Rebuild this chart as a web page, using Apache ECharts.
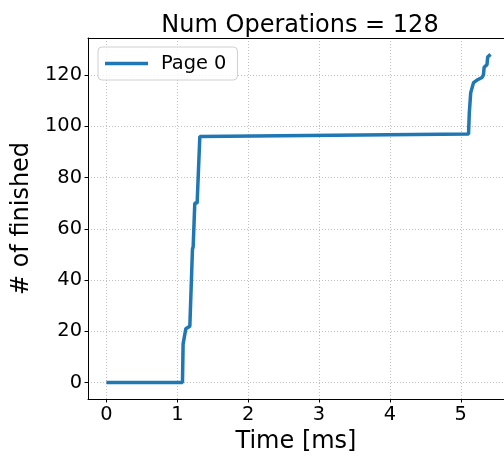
<!DOCTYPE html>
<html>
<head>
<meta charset="utf-8">
<script src="https://cdn.jsdelivr.net/npm/echarts@6/dist/echarts.min.js"></script>
<style>
html,body{margin:0;padding:0;background:#fff;}
#chart{width:504px;height:459px;}
</style>
</head>
<body>
<div id="chart"></div>
<script>
const titleText = "Num Operations = 128";
const xLabel = "Time [ms]";
const yLabel = "# of finished";
const seriesName = "Page 0";
const timeMs = [0, 1.073, 1.082, 1.120, 1.177, 1.214, 1.224, 1.247, 1.280, 1.318, 5.11, 5.12, 5.14, 5.18, 5.23, 5.30, 5.32, 5.33, 5.37, 5.38, 5.42];
const finished = [0, 0, 15, 21, 22, 52, 53, 70, 70, 96, 97, 105, 113, 117, 118, 119, 120, 123, 124, 127, 128];
const xTicks = [0, 1, 2, 3, 4, 5];
const yTicks = [0, 20, 40, 60, 80, 100, 120];

const font = "DejaVu Sans";
const chart = echarts.init(document.getElementById('chart'), null, {renderer: 'canvas'});
const data = timeMs.map((t, i) => [t, finished[i]]);
const splitStyle = {show: true, lineStyle: {color: '#b0b0b0', type: [1, 2], width: 0.8}};
chart.setOption({
  animation: false,
  backgroundColor: '#fff',
  title: {
    text: titleText, left: 295, top: 9, textAlign: 'center',
    textStyle: {fontFamily: font, fontSize: 24, fontWeight: 'normal', color: '#000'}
  },
  legend: {
    left: 98, top: 47,
    padding: [7, 11, 7, 7],
    borderColor: '#d0d0d0', borderWidth: 1, borderRadius: 4,
    backgroundColor: 'rgba(255,255,255,0.8)',
    icon: 'rect', itemWidth: 43, itemHeight: 3.5,
    textStyle: {fontFamily: font, fontSize: 19.4, color: '#000', padding: [0, 0, 0, 8]},
    data: [seriesName]
  },
  grid: {
    left: 88, top: 38, right: 0, bottom: 57,
    show: false, containLabel: false
  },
  xAxis: [{
    type: 'value', min: -0.26, max: 5.61,
    name: xLabel, nameLocation: 'middle', nameGap: 31,
    nameTextStyle: {fontFamily: font, fontSize: 24, color: '#000'},
    axisLine: {show: true, onZero: false, lineStyle: {color: '#000', width: 1}},
    axisTick: {show: true, length: 3.5, inside: false, customValues: xTicks, lineStyle: {color: '#000'}},
    axisLabel: {customValues: xTicks, margin: 6, fontFamily: font, fontSize: 19.4, color: '#000'},
    splitLine: splitStyle
  }, {
    type: 'value', position: 'top', min: -0.26, max: 5.61,
    axisLine: {show: true, onZero: false, lineStyle: {color: '#000', width: 1}},
    axisTick: {show: false}, axisLabel: {show: false}, splitLine: {show: false}
  }],
  yAxis: {
    type: 'value', min: -6.4, max: 134.4,
    name: yLabel, nameLocation: 'middle', nameGap: 49, nameRotate: 90,
    nameTextStyle: {fontFamily: font, fontSize: 24, color: '#000'},
    axisLine: {show: true, onZero: false, lineStyle: {color: '#000', width: 1}},
    axisTick: {show: true, length: 3.5, inside: false, customValues: yTicks, lineStyle: {color: '#000'}},
    axisLabel: {customValues: yTicks, margin: 6, fontFamily: font, fontSize: 19.4, color: '#000'},
    splitLine: splitStyle
  },
  series: [{
    name: seriesName, type: 'line', data: data, xAxisIndex: 0,
    showSymbol: false, symbol: 'none',
    lineStyle: {color: '#1f77b4', width: 3.5},
    itemStyle: {color: '#1f77b4'}
  }]
});
</script>
</body>
</html>
